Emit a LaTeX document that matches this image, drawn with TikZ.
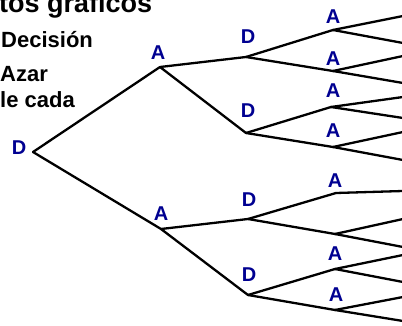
\documentclass[tikz,border=0pt]{standalone}
\usepackage{fontspec}
\setmainfont{Liberation Sans}
\definecolor{nodeblue}{RGB}{0,0,145}
\begin{document}
\begin{tikzpicture}[x=1pt,y=-1pt,
  branch/.style={line width=2.3pt, line cap=round},
  lbl/.style={text=nodeblue, inner sep=0, font=\bfseries\fontsize{20}{20}\selectfont},
  legend/.style={anchor=base west, inner sep=0, font=\bfseries\fontsize{22}{22}\selectfont},
  heading/.style={anchor=base west, inner sep=0, font=\bfseries\fontsize{27}{27}\selectfont}]
\useasboundingbox (0,0) rectangle (402,326);

% heading and legend text
\node[heading] (title) at (-1,13) {tos gráficos};
\node[legend] (ldec) at (1,48) {Decisión};
\node[legend] (lazar) at (0,82) {Azar};
\node[legend] (lcada) at (0,108) {le cada};

% tree vertices
\coordinate (r) at (33,152);
\coordinate (a1) at (160,67);
\coordinate (a2) at (161,229);
\coordinate (d11) at (246,57);
\coordinate (d12) at (246,133);
\coordinate (d21) at (248,219);
\coordinate (d22) at (248,295);
\coordinate (c1) at (333,30);
\coordinate (c2) at (333,71);
\coordinate (c3) at (331,107);
\coordinate (c4) at (333,147);
\coordinate (c5) at (336,193);
\coordinate (c6) at (335,234);
\coordinate (c7) at (335,269);
\coordinate (c8) at (335,310);

% free ends at the right border
\coordinate (e1) at (403,16);
\coordinate (e2) at (403,43);
\coordinate (e3) at (403,56);
\coordinate (e4) at (403,83);
\coordinate (e5) at (403,97);
\coordinate (e6) at (403,118);
\coordinate (e7) at (403,132);
\coordinate (e8) at (403,160);
\coordinate (e9) at (403,191);
\coordinate (e10) at (403,219);
\coordinate (e11) at (403,247);
\coordinate (e12) at (403,255);
\coordinate (e13) at (403,282);
\coordinate (e14) at (403,297);
\coordinate (e15) at (403,321);

% vertex labels
\node[lbl] (rL) at (19,148) {D};
\node[lbl] (a1L) at (158,53) {A};
\node[lbl] (a2L) at (161,214) {A};
\node[lbl] (d11L) at (248,37) {D};
\node[lbl] (d12L) at (248,111) {D};
\node[lbl] (d21L) at (249,200) {D};
\node[lbl] (d22L) at (249,275) {D};
\node[lbl] (c1L) at (333,17) {A};
\node[lbl] (c2L) at (333,59) {A};
\node[lbl] (c3L) at (333,91) {A};
\node[lbl] (c4L) at (333,131) {A};
\node[lbl] (c5L) at (335,181) {A};
\node[lbl] (c7L) at (335,254) {A};
\node[lbl] (c8L) at (336,295) {A};

% branches
\draw[branch] (r) -- (a1);
\draw[branch] (r) -- (a2);
\draw[branch] (a1) -- (d11);
\draw[branch] (a1) -- (d12);
\draw[branch] (a2) -- (d21);
\draw[branch] (a2) -- (d22);
\draw[branch] (d11) -- (c1);
\draw[branch] (d11) -- (c2);
\draw[branch] (d12) -- (c3);
\draw[branch] (d12) -- (c4);
\draw[branch] (d21) -- (c5);
\draw[branch] (d21) -- (c6);
\draw[branch] (d22) -- (c7);
\draw[branch] (d22) -- (c8);
\draw[branch] (c1) -- (e1);
\draw[branch] (c1) -- (e2);
\draw[branch] (c2) -- (e3);
\draw[branch] (c2) -- (e4);
\draw[branch] (c3) -- (e5);
\draw[branch] (c3) -- (e6);
\draw[branch] (c4) -- (e7);
\draw[branch] (c4) -- (e8);
\draw[branch] (c5) -- (e9);
\draw[branch] (c6) -- (e10);
\draw[branch] (c6) -- (e11);
\draw[branch] (c7) -- (e12);
\draw[branch] (c7) -- (e13);
\draw[branch] (c8) -- (e14);
\draw[branch] (c8) -- (e15);
\end{tikzpicture}
\end{document}
